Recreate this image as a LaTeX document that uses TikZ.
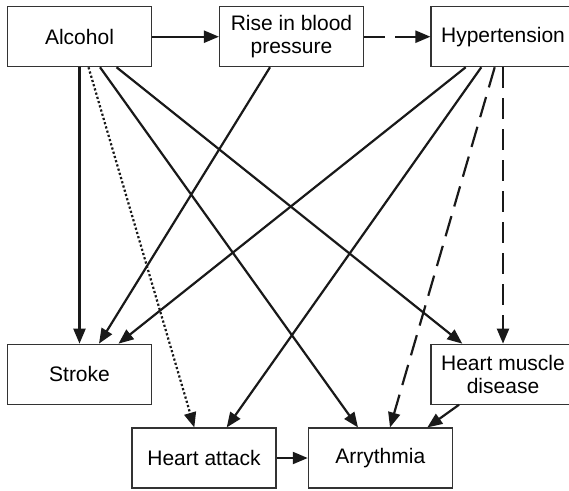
\documentclass[tikz,border=0pt]{standalone}
\usepackage{fontspec}
\setmainfont{Liberation Sans}
\usetikzlibrary{arrows.meta}
\begin{document}
\begin{tikzpicture}[x=1pt,y=-1pt,
  box/.style={draw=black!80,line width=1.1pt,minimum width=144pt,minimum height=60pt,inner sep=0pt,align=center,font=\fontsize{21}{23}\selectfont},
  arr/.style={line width=2.2pt,draw=black!90,-{Triangle[length=15pt,width=12pt]}},
  dsh/.style={arr,dash pattern=on 21pt off 10pt},
  dtt/.style={arr,dash pattern=on 2.2pt off 2.2pt}]
\useasboundingbox (0,0) rectangle (569,490);
\clip (0,0) rectangle (569,490);
\node[box] (alc) at (79.5,36.7) {Alcohol};
\node[box] (rise) at (291.5,36.7) {Rise in blood\\pressure};
\node[box] (hyp) at (503,36.7) {Hypertension};
\node[box] (str) at (79.5,374.2) {Stroke};
\node[box] (hmd) at (503,374.2) {Heart muscle\\disease};
\node[box] (ha) at (204,458) {Heart attack};
\node[box] (arr) at (380.3,458) {Arrythmia};
\draw[arr] (alc) -- (rise);
\draw[dsh] (rise) -- (hyp.west);
\draw[arr] (ha) -- (arr);
\draw[arr] (alc.south) -- (str.north);
\draw[dtt] ([xshift=9pt]alc.south) -- ([xshift=-9.7pt]ha.north);
\draw[arr] ([xshift=20.5pt]alc.south) -- ([xshift=-22.3pt]arr.north);
\draw[arr] ([xshift=37pt]alc.south) -- ([xshift=-40.7pt]hmd.north);
\draw[arr] ([xshift=-21.5pt]rise.south) -- ([xshift=19.5pt]str.north);
\draw[arr] ([xshift=-37.3pt]hyp.south) -- ([xshift=39pt]str.north);
\draw[arr] ([xshift=-21.7pt]hyp.south) -- ([xshift=22.7pt]ha.north);
\draw[dsh] ([xshift=-8.3pt]hyp.south) -- ([xshift=9.7pt]arr.north);
\draw[dsh] (hyp.south) -- (hmd.north);
\draw[arr] ([xshift=-44pt]hmd.south) -- ([xshift=47pt]arr.north);
\end{tikzpicture}
\end{document}
